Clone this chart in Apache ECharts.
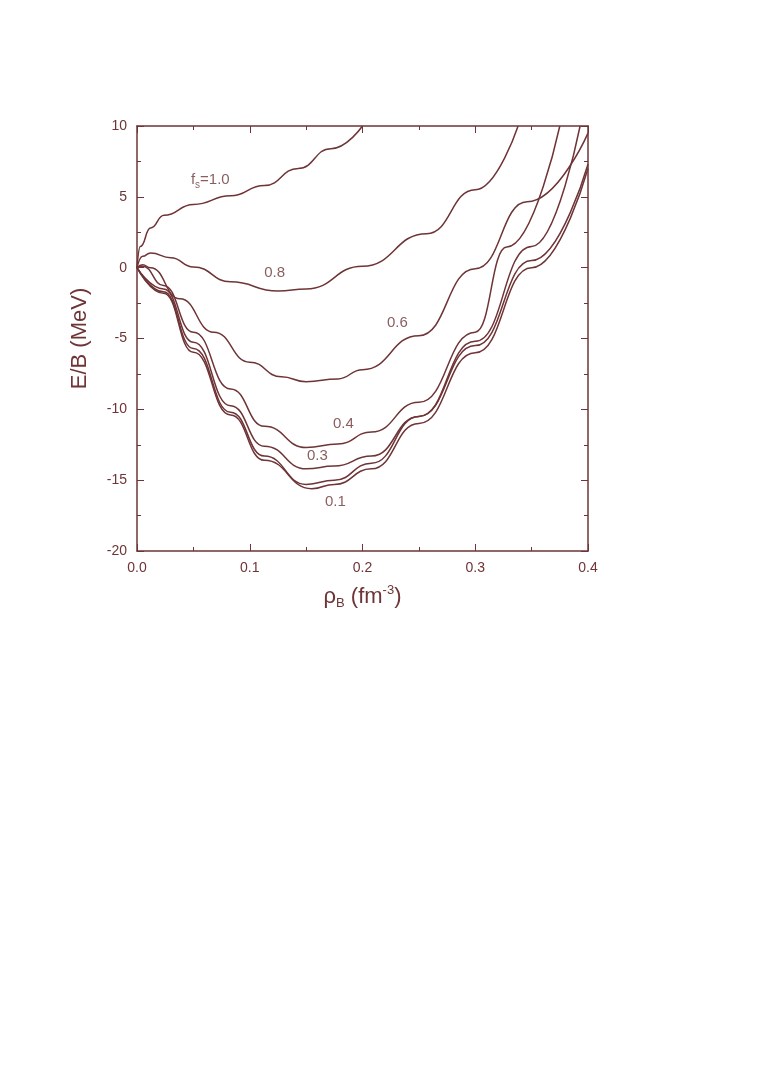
<!DOCTYPE html><html><head><meta charset="utf-8">
<script src="https://cdn.jsdelivr.net/npm/echarts@6/dist/echarts.min.js"></script>
<style>body{margin:0;background:#fff}#c{width:763px;height:1090px}</style></head><body><div id="c"></div>
<script>
const x10=[0,0.003,0.012,0.024,0.05,0.083,0.113,0.143,0.172,0.2];
const y10=[0,1.5,2.8,3.7,4.46,5.07,5.8,7.0,8.4,10.0];
const x08=[0,0.005,0.012,0.03,0.05,0.083,0.125,0.15,0.2,0.257,0.3,0.338];
const y08=[0,0.8,1.04,0.7,0.05,-1.0,-1.65,-1.5,0.1,2.4,5.5,10];
const x06=[0,0.005,0.012,0.038,0.068,0.1,0.128,0.15,0.178,0.2,0.25,0.3,0.346,0.4];
const y06=[0,0.2,0.0,-2.2,-4.55,-6.67,-7.7,-8.05,-7.85,-7.2,-4.8,-0.07,4.65,9.5];
const x04=[0,0.005,0.0235,0.05,0.083,0.113,0.15,0.178,0.208,0.25,0.3,0.328,0.375];
const y04=[0,0.1,-1.25,-4.55,-8.56,-11.2,-12.7,-12.45,-11.6,-9.5,-4.55,1.46,10];
const x03=[0,0.0235,0.05,0.083,0.113,0.15,0.175,0.208,0.25,0.3,0.35,0.393];
const y03=[0,-1.5,-5.26,-9.74,-12.6,-14.2,-14.0,-13.3,-10.5,-5.2,1.5,10];
const x02=[0,0.0235,0.05,0.083,0.113,0.15,0.175,0.208,0.25,0.3,0.35,0.4];
const y02=[0,-1.7,-5.7,-10.2,-13.3,-15.3,-15.0,-13.8,-10.5,-5.5,0.5,7.3];
const x01=[0,0.0235,0.05,0.083,0.113,0.155,0.175,0.208,0.25,0.3,0.35,0.4];
const y01=[0,-1.8,-5.97,-10.4,-13.6,-15.6,-15.3,-14.2,-11.0,-6.0,0.0,7.0];
const labels=[["{a|f}{s|s}{a|=1.0}",0.065,6.2],["0.8",0.122,-0.4],["0.6",0.231,-3.9],["0.4",0.183,-11],["0.3",0.16,-13.3],["0.1",0.176,-16.5]];
const C='#6e3436';
const zip=(a,b)=>a.map((v,i)=>[v,b[i]]);
const curves=[[x10,y10],[x08,y08],[x06,y06],[x04,y04],[x03,y03],[x02,y02],[x01,y01]];
const axBase={axisLine:{show:true,onZero:false,lineStyle:{color:C,width:1.5}},splitLine:{show:false},
 axisTick:{inside:true,length:7,lineStyle:{color:C}},minorTick:{show:true,splitNumber:2,length:4,lineStyle:{color:C}}};
const series=curves.map(([a,b])=>({type:'line',data:zip(a,b),smooth:0.5,smoothMonotone:'x',showSymbol:false,lineStyle:{color:C,width:1.5},silent:true,clip:true}));
series.push({type:'scatter',symbolSize:0,silent:true,data:labels.map(l=>[l[1],l[2],l[0]]),
 label:{show:true,position:'inside',formatter:p=>p.data[2],color:C,fontSize:15,fontFamily:'Liberation Sans',
 rich:{a:{color:C,fontSize:15,fontFamily:'Liberation Sans'},s:{color:C,fontSize:10,padding:[10,0,0,0],fontFamily:'Liberation Sans'}}}});
echarts.init(document.getElementById('c')).setOption({animation:false,
 grid:{left:137,right:175,top:126,bottom:539},
 xAxis:[Object.assign({type:'value',min:0,max:0.4,interval:0.1,
   axisLabel:{color:C,fontSize:14,fontFamily:'Liberation Sans',margin:10,formatter:v=>v.toFixed(1)},
   name:'{a|ρ}{s|B}{a| (fm}{u|-3}{a|)}',nameLocation:'middle',nameGap:32,
   nameTextStyle:{rich:{a:{color:C,fontSize:22,fontFamily:'Liberation Sans'},s:{color:C,fontSize:13,padding:[14,0,0,0],fontFamily:'Liberation Sans'},u:{color:C,fontSize:13,padding:[0,0,12,0],fontFamily:'Liberation Sans'}}}},axBase),
  Object.assign({type:'value',position:'top',min:0,max:0.4,interval:0.1,axisLabel:{show:false}},axBase)],
 yAxis:[Object.assign({type:'value',min:-20,max:10,interval:5,
   axisLabel:{color:C,fontSize:14,fontFamily:'Liberation Sans',margin:10},
   name:'E/B (MeV)',nameLocation:'middle',nameGap:46,nameTextStyle:{color:C,fontSize:22,fontFamily:'Liberation Sans'}},axBase),
  Object.assign({type:'value',position:'right',min:-20,max:10,interval:5,axisLabel:{show:false}},axBase)],
 series});
</script></body></html>
